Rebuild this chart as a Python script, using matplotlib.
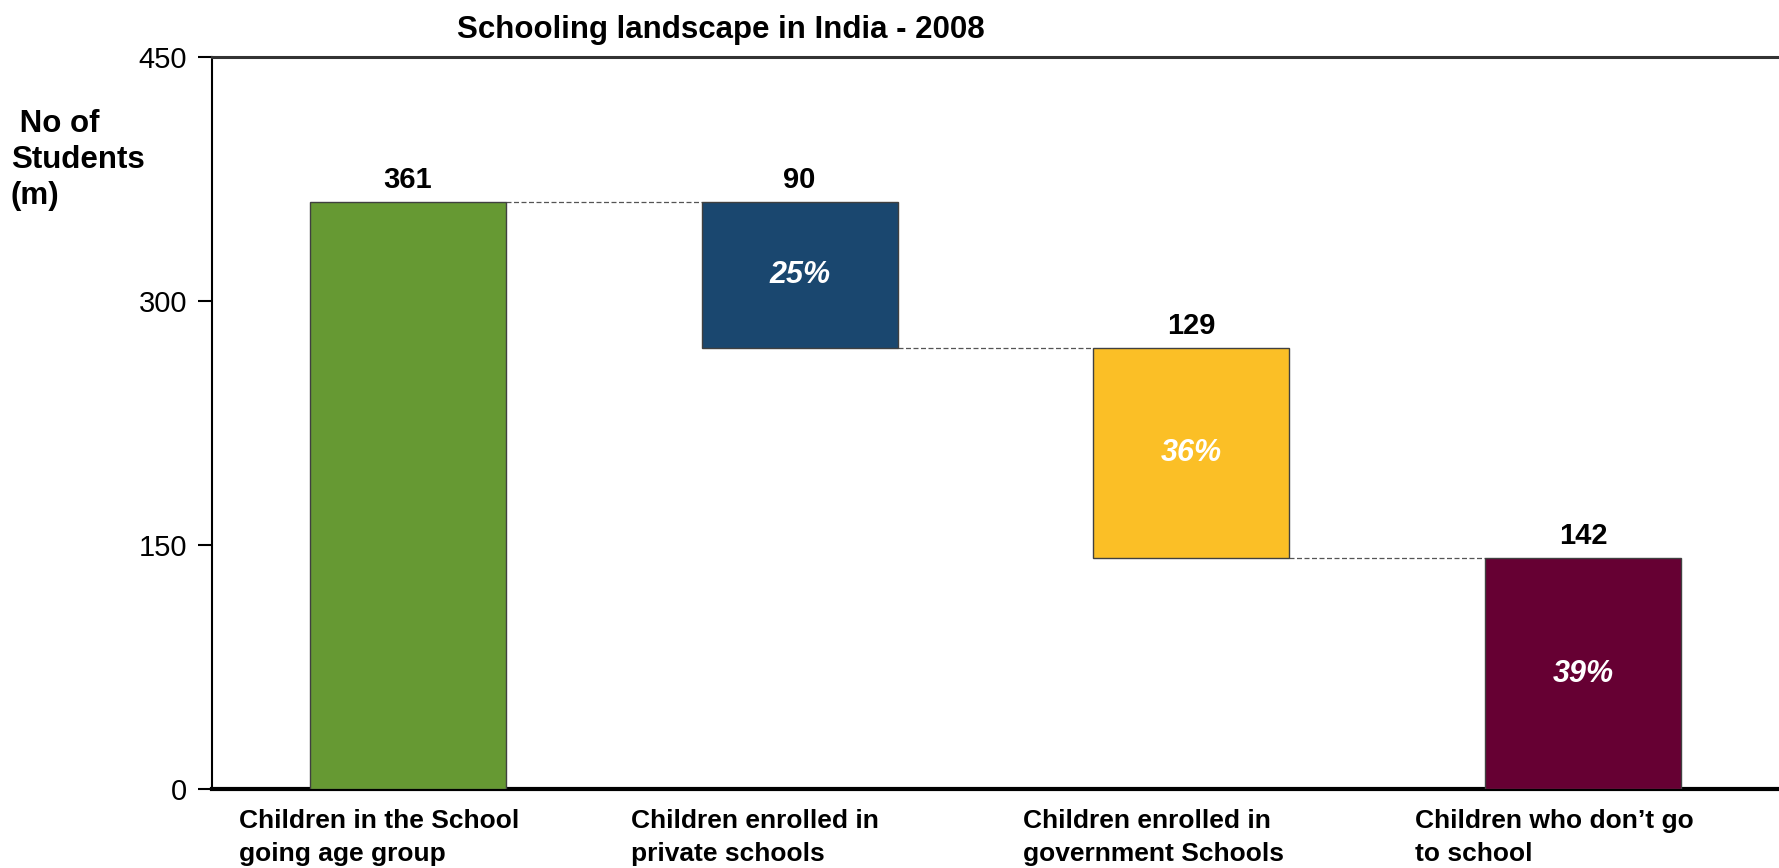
import matplotlib.pyplot as plt
from matplotlib import transforms

plt.rcParams['font.family'] = ['Liberation Sans', 'DejaVu Sans']

# Data
categories = ['Children in the School\ngoing age group',
              'Children enrolled in\nprivate schools',
              'Children enrolled in\ngovernment Schools',
              'Children who don\u2019t go\nto school']
values = [361, 90, 129, 142]
bottoms = [0, 271, 142, 0]
shares = ['', '25%', '36%', '39%']
colors = ['#669933', '#1a476f', '#fbbf26', '#660033']

BAR_WIDTH = 0.5

fig = plt.figure(figsize=(17.79, 8.68), dpi=100)
ax = fig.add_axes([0.1192, 0.091, 0.8808, 0.843])

x = list(range(len(values)))
ax.bar(x, values, BAR_WIDTH, bottom=bottoms, color=colors,
       edgecolor='#404040', linewidth=1.0, zorder=3)

# connector lines between bars
for i in range(len(values) - 1):
    level = bottoms[i + 1] + values[i + 1] if i == 0 else bottoms[i]
    ax.plot([i + BAR_WIDTH / 2, i + 1 - BAR_WIDTH / 2], [level, level],
            linestyle=(0, (4, 2)), color='#555555', linewidth=0.9, zorder=2)

# value labels on top of bars, shares inside
for i, (v, b) in enumerate(zip(values, bottoms)):
    ax.annotate(str(v), (i, b + v), xytext=(0, 6), textcoords='offset points',
                ha='center', va='bottom', fontsize=21, fontweight='bold')
    if shares[i]:
        ax.text(i, b + v / 2, shares[i], ha='center', va='center', color='white',
                fontsize=22, fontweight='bold', fontstyle='italic', zorder=4)

ax.set_xlim(-0.5, 3.5)
ax.set_ylim(0, 450)
ax.set_yticks([0, 150, 300, 450])
ax.tick_params(axis='y', labelsize=21, length=10, width=1.5, direction='out', pad=8)
ax.set_xticks([])

ax.spines['right'].set_visible(False)
ax.spines['left'].set_linewidth(1.5)
ax.spines['bottom'].set_linewidth(3)
ax.spines['top'].set_linewidth(2.2)
ax.spines['top'].set_color('#333333')

# category labels, left aligned under bars
trans = transforms.blended_transform_factory(ax.transData, fig.transFigure)
for i, cat in enumerate(categories):
    fig.text(i - 0.43, 0.068, cat, transform=trans, ha='left', va='top',
             fontsize=19, fontweight='bold', linespacing=1.45)

fig.text(0.006, 0.874, ' No of\nStudents\n(m)', ha='left', va='top',
         fontsize=22.5, fontweight='bold', linespacing=1.25)

fig.text(0.405, 0.966, 'Schooling landscape in India - 2008', ha='center', va='center',
         fontsize=22.5, fontweight='bold')

fig.savefig('out.png', dpi=100)
